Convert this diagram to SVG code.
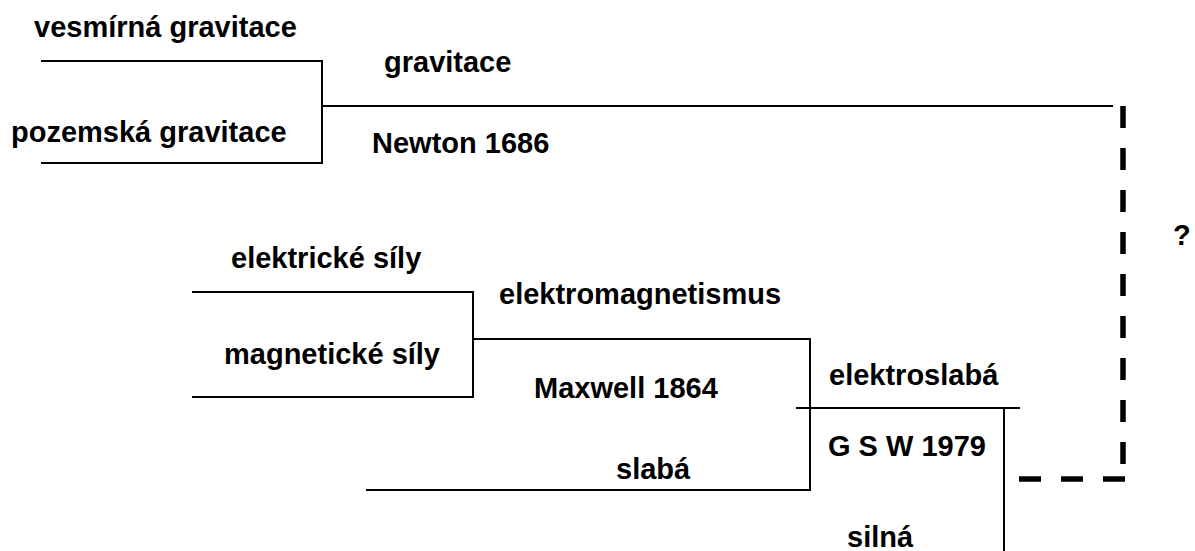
<svg xmlns="http://www.w3.org/2000/svg" width="1195" height="551" viewBox="0 0 1195 551">
  <style>
    .lbl { font-family: "Liberation Sans", Arial, sans-serif; font-weight: bold; font-size: 29px; fill: #000; }
    .ln { stroke: #000; stroke-width: 2; fill: none; stroke-linecap: square; }
    .dash { stroke: #000; stroke-width: 5.5; fill: none; stroke-dasharray: 22 20; }
  </style>
  <rect width="1195" height="551" fill="#fff"/>

  <!-- merge lines between the forces -->
  <g id="connectors">
    <!-- gravity: cosmic + terrestrial -->
    <polyline class="ln" points="42,61 322,61 322,163 42,163"/>
    <line class="ln" x1="322" y1="106" x2="1112" y2="106"/>
    <!-- electromagnetism: electric + magnetic -->
    <polyline class="ln" points="193,292 473,292 473,397 193,397"/>
    <!-- electroweak: electromagnetism + weak -->
    <polyline class="ln" points="473,339 810,339 810,490 367,490"/>
    <line class="ln" x1="797" y1="408" x2="1019" y2="408"/>
    <!-- strong -->
    <line class="ln" x1="1004" y1="408" x2="1004" y2="551"/>
    <!-- hypothetical unification -->
    <line class="dash" x1="1123" y1="106" x2="1123" y2="466"/>
    <line class="dash" x1="1019" y1="479" x2="1125" y2="479"/>
  </g>

  <g id="vesmirna-gravitace"><text class="lbl" x="34" y="37">vesmírná gravitace</text></g>
  <g id="pozemska-gravitace"><text class="lbl" x="11" y="142">pozemská gravitace</text></g>
  <g id="gravitace"><text class="lbl" x="384" y="72">gravitace</text></g>
  <g id="newton"><text class="lbl" x="372" y="153">Newton 1686</text></g>

  <g id="elektricke-sily"><text class="lbl" x="231" y="268">elektrické síly</text></g>
  <g id="magneticke-sily"><text class="lbl" x="224" y="364">magnetické síly</text></g>
  <g id="elektromagnetismus"><text class="lbl" x="499" y="304">elektromagnetismus</text></g>
  <g id="maxwell"><text class="lbl" x="534" y="398">Maxwell 1864</text></g>

  <g id="slaba"><text class="lbl" x="616" y="479">slabá</text></g>
  <g id="elektroslaba"><text class="lbl" x="829" y="385">elektroslabá</text></g>
  <g id="gsw"><text class="lbl" x="828" y="456">G S W 1979</text></g>
  <g id="silna"><text class="lbl" x="847" y="547">silná</text></g>

  <g id="otaznik"><text class="lbl" x="1173" y="245">?</text></g>
</svg>
